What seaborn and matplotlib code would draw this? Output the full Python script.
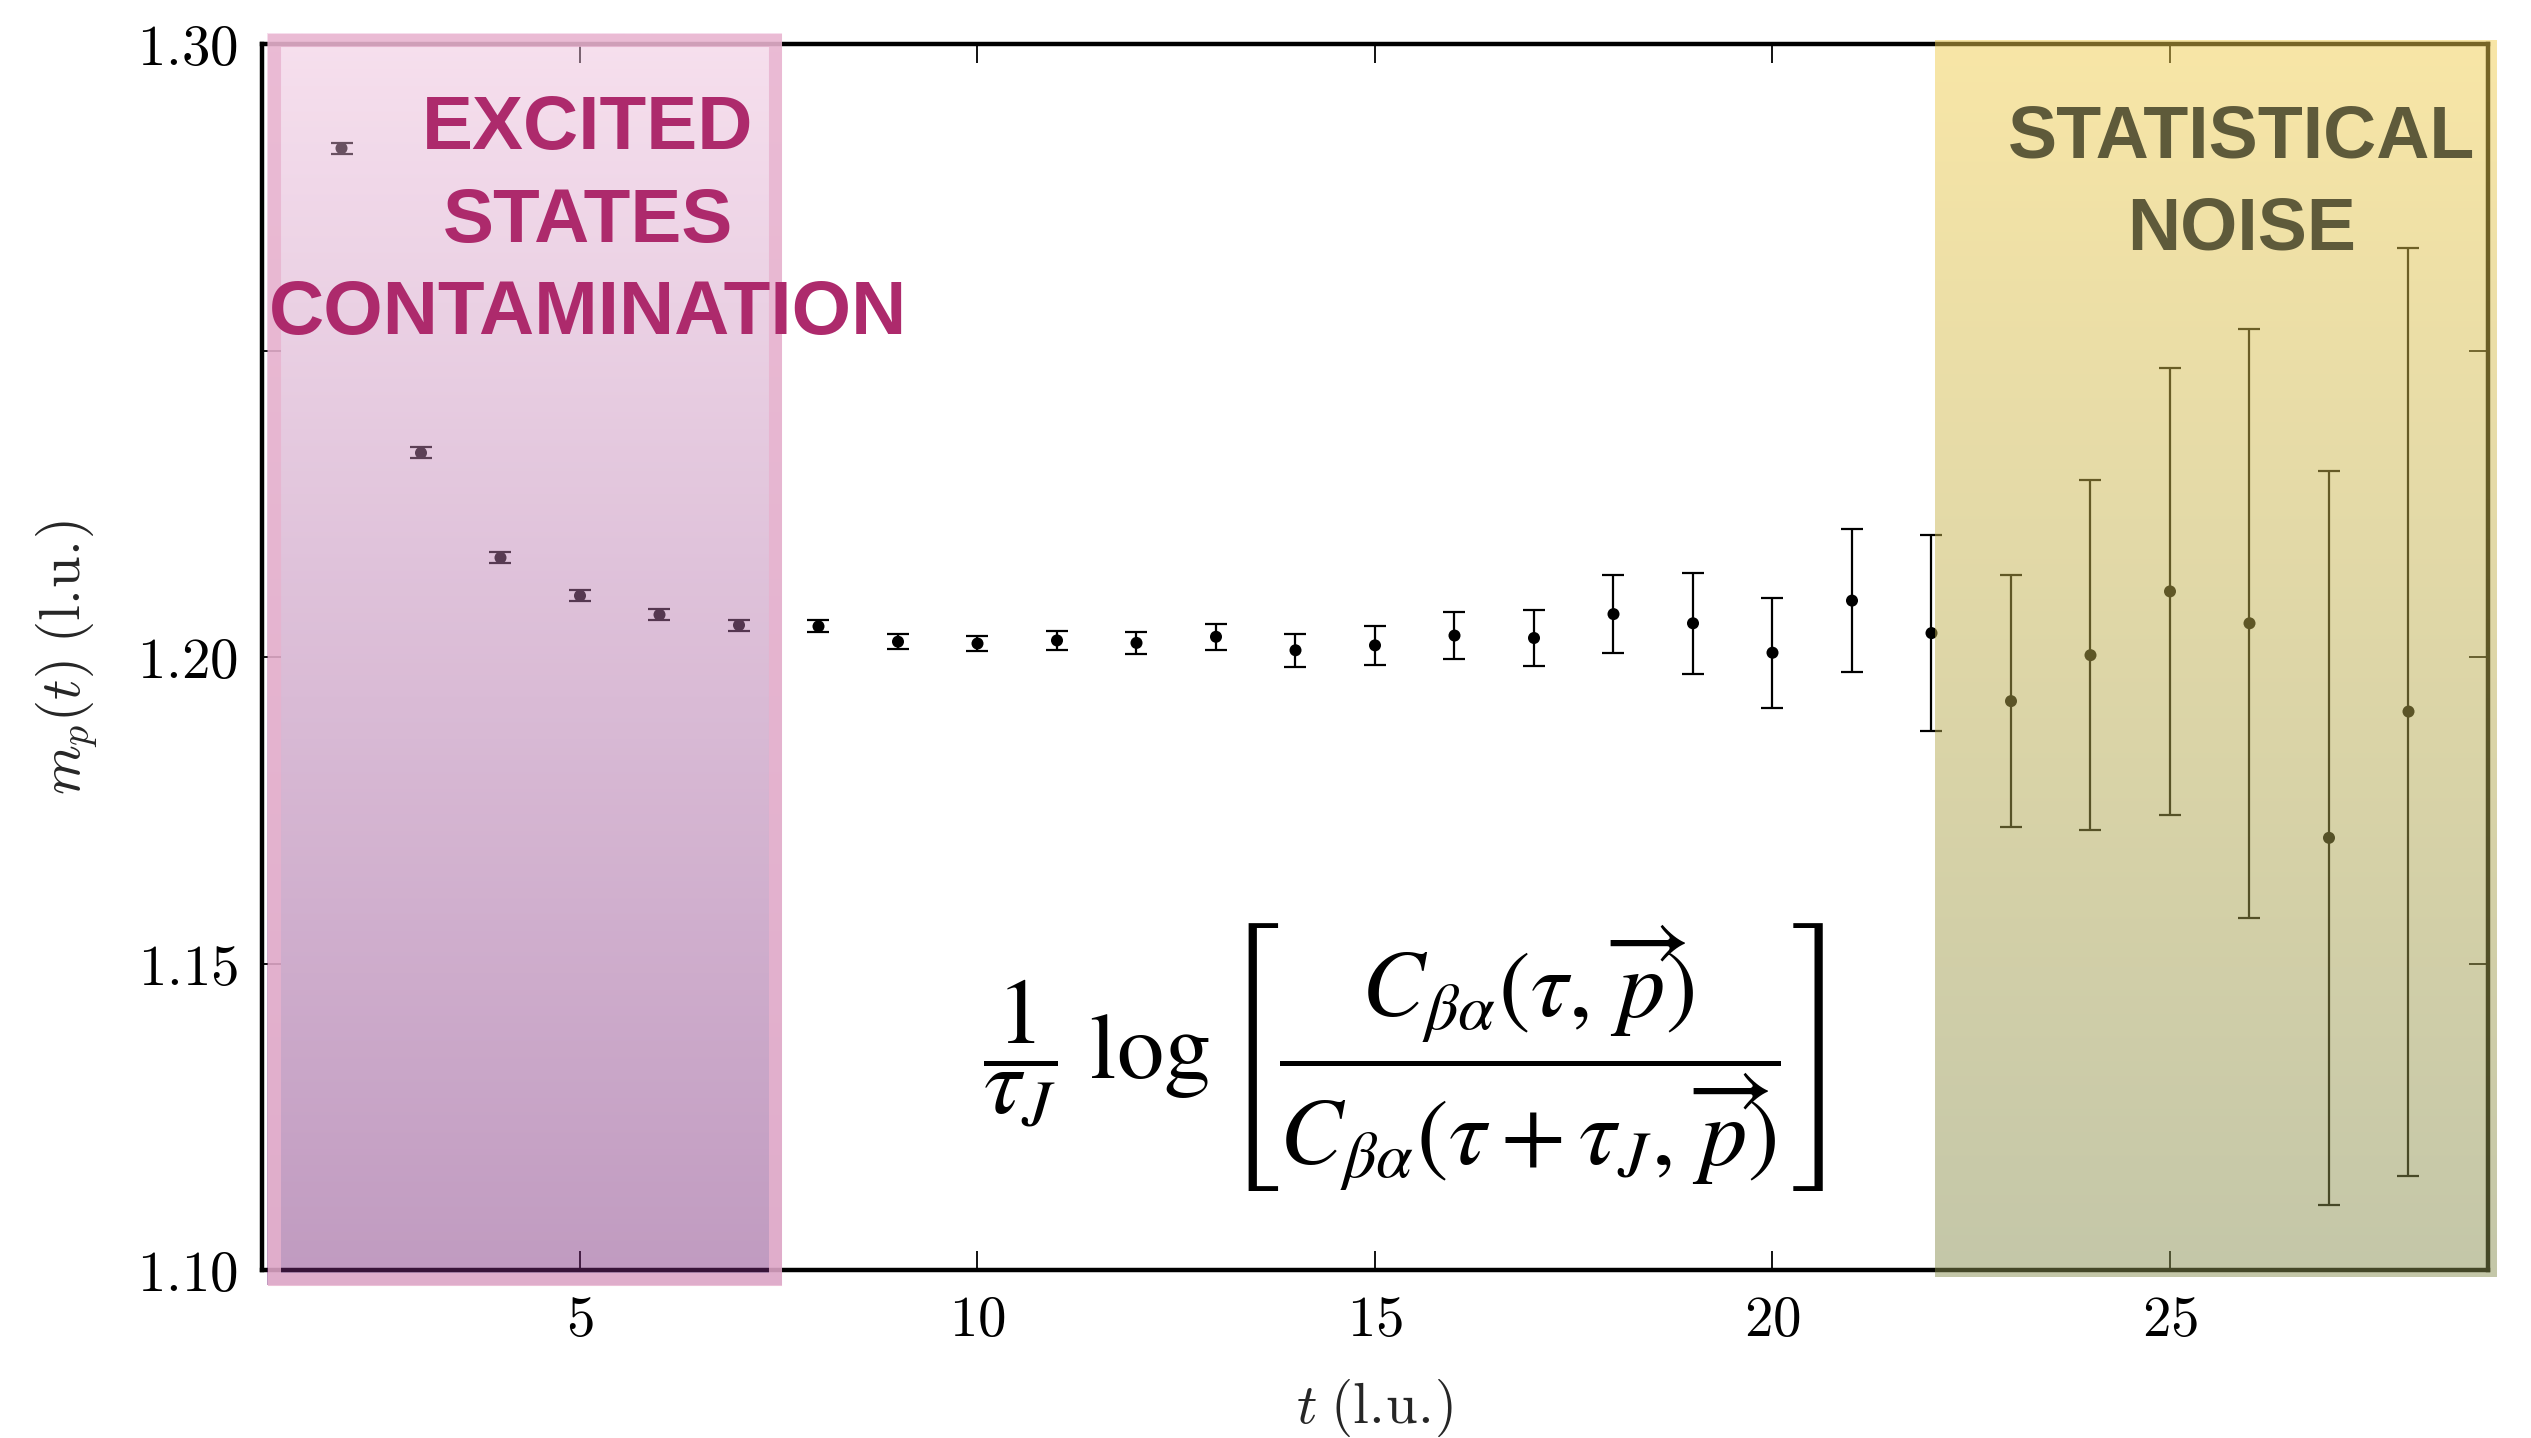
import numpy as np
import pandas as pd
import matplotlib
matplotlib.use("Agg")
import matplotlib.pyplot as plt
import seaborn as sns
from matplotlib.patches import Rectangle

# ---------------- data ----------------
t_values = list(range(2, 29))
m_p = [1.2830, 1.2333, 1.2162, 1.2100, 1.2069, 1.2052, 1.2050, 1.2025, 1.2022,
       1.2027, 1.2023, 1.2033, 1.2011, 1.2019, 1.2035, 1.2031, 1.2070, 1.2055,
       1.2007, 1.2092, 1.2039, 1.1928, 1.2003, 1.2107, 1.2055, 1.1705, 1.1911]
m_err = [0.0009, 0.0009, 0.0009, 0.0009, 0.0009, 0.0009, 0.0010, 0.0012, 0.0013,
         0.0016, 0.0018, 0.0021, 0.0027, 0.0032, 0.0039, 0.0045, 0.0063, 0.0082,
         0.0090, 0.0116, 0.0160, 0.0206, 0.0286, 0.0365, 0.0480, 0.0599, 0.0757]
x_ticks = [5, 10, 15, 20, 25]
x_tick_labels = ["5", "10", "15", "20", "25"]
y_ticks = [1.10, 1.15, 1.20, 1.25, 1.30]
y_tick_labels = ["1.10", "1.15", "1.20", "", "1.30"]
excited_lines = ["EXCITED", "STATES", "CONTAMINATION"]
noise_lines = ["STATISTICAL", "NOISE"]

# ---------------- style ----------------
sns.set_theme(style="ticks")
plt.rcParams["font.family"] = ["Liberation Sans", "DejaVu Sans"]
plt.rcParams["mathtext.fontset"] = "cm"

W, H = 2531, 1438
fig = plt.figure(figsize=(W / 100, H / 100), dpi=100)
L, R, T, B = 262, 2488, 44, 1270
ax = fig.add_axes([L / W, 1 - B / H, (R - L) / W, (B - T) / H])

df = pd.DataFrame({"t": t_values, "m": m_p, "err": m_err})
ax.errorbar(df["t"], df["m"], yerr=df["err"], fmt="none", ecolor="black",
            elinewidth=1.6, capsize=8, capthick=1.6, zorder=3)
sns.scatterplot(data=df, x="t", y="m", color="black", s=75, edgecolor="none",
                ax=ax, zorder=4)


def grad_overlay(x0, x1, y0, y1, top, bot, alpha, z):
    n = 256
    f = np.linspace(0, 1, n)[:, None]
    rgb = (1 - f) * np.array(top, float) + f * np.array(bot, float)
    rgba = np.concatenate([rgb / 255.0, np.full((n, 1), alpha)], axis=1)[:, None, :]
    ax.imshow(rgba, extent=[x0, x1, y0, y1], origin="upper", aspect="auto",
              zorder=z, clip_on=False, interpolation="bilinear")


def px2x(px):
    return 1 + (px - L) / (R - L) * 28


def py2y(py):
    return 1.30 - (py - T) / (B - T) * 0.2


# pink region (excited states)
px0, px1, py0, py1 = px2x(267), px2x(782), py2y(1285), py2y(33)
grad_overlay(px0, px1, py0, py1, (238, 189, 219), (121, 40, 121), 0.47, 5)
dx = 6.5 / (R - L) * 28
dy = 6.5 / (B - T) * 0.2
ax.add_patch(Rectangle((px0 + dx, py0 + dy), (px1 - px0) - 2 * dx, (py1 - py0) - 2 * dy,
                       fill=False, edgecolor=(232 / 255, 178 / 255, 206 / 255, 0.8),
                       linewidth=9.4, zorder=6, clip_on=False))

# yellow region (statistical noise)
grad_overlay(px2x(1935), px2x(2497), py2y(1277), py2y(41),
             (241, 205, 77), (137, 143, 81), 0.5, 5)

# labels inside regions
for line, yv in zip(excited_lines, [1.2860, 1.2708, 1.2558]):
    ax.text(5.10, yv, line, ha="center", va="center", fontsize=55,
            fontweight="bold", color="#ad2a6c", zorder=10)
for line, yv in zip(noise_lines, [1.2847, 1.2697]):
    ax.text(25.9, yv, line, ha="center", va="center", fontsize=53,
            fontweight="bold", color="#5e5a3a", zorder=10)

# formula
ax.text(15.36, 1.1347,
        r"$\dfrac{1}{\tau_J}\ \log\left[\dfrac{C_{\beta\alpha}(\tau,\,\overrightarrow{p})}"
        r"{C_{\beta\alpha}(\tau+\tau_J,\,\overrightarrow{p})}\right]$",
        ha="center", va="center", fontsize=68, math_fontfamily="stix",
        color="black", zorder=10)

# axes
ax.set_xlim(1, 29)
ax.set_ylim(1.10, 1.30)
ax.set_xticks(x_ticks)
ax.set_xticklabels(["$%s$" % s for s in x_tick_labels])
ax.set_yticks(y_ticks)
ax.set_yticklabels(["$%s$" % s if s else "" for s in y_tick_labels])
ax.tick_params(direction="in", length=13.7, width=1.3, top=True, right=True,
               labelsize=41, pad=17, colors="black")
for sp in ax.spines.values():
    sp.set_linewidth(3.2)
    sp.set_color("black")
ax.set_facecolor("white")

ax.set_xlabel(r"$t\;(\mathrm{l.\!u.}\!)$", fontsize=41)
ax.set_ylabel(r"$m_p(t)\;(\mathrm{l.\!u.}\!)$", fontsize=41)
ax.xaxis.set_label_coords(0.5, -0.087)
ax.yaxis.set_label_coords(-0.073, 0.5)

fig.savefig("out.png", dpi=100, facecolor="white")
